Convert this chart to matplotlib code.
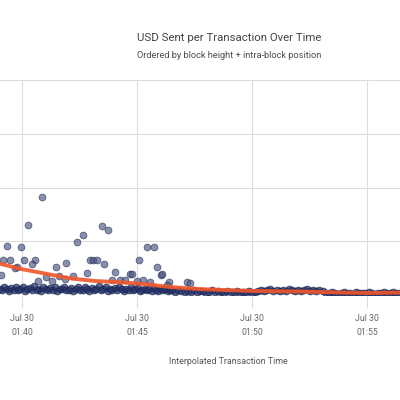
import matplotlib
matplotlib.use("Agg")
import matplotlib.pyplot as plt
import matplotlib.dates as mdates
import numpy as np
import datetime as dt

plt.rcParams['font.family'] = ['Roboto', 'DejaVu Sans']

# ---- data (seconds after 01:39:00, USD) ----
outlier_sec = [112, 76, 21, 57, 10, 29, 65, 94, 86, 47, 42, 5, 149, 175, 203, 219, 230,
               123, 157, 193, 102, 138, 172, 269, 284, 237, 245, 256, 274, 303, 342, 347,
               365, 386, 404, 412, 423, 295, 316, 329, 360, 376, 394, 425, 443, 490, 498, 438]
outlier_usd = [182, 130, 91, 89, 65, 65, 65, 65, 58, 52, 50, 37, 52, 60, 99, 112, 41,
               33, 35, 35, 26, 26, 30, 128, 121, 65, 65, 65, 58, 43, 39, 39,
               65, 89, 89, 52, 37, 28, 28, 28, 26, 28, 24, 39, 24, 24, 22, 19]

band_sec = [2, 8, 14, 20, 26, 32, 38, 44, 50, 56, 62, 68, 74, 80, 86, 92, 98, 104, 110, 116,
            122, 128, 134, 140, 146, 152, 158, 164, 170, 176, 182, 188, 194, 200, 206, 212,
            218, 224, 230, 236, 242, 248, 254, 260, 266, 272, 278, 284, 290, 296, 302, 308,
            314, 320, 326, 332, 338, 344, 350, 356, 362, 368, 374, 380, 386, 392, 398, 404,
            410, 416, 422, 428, 434, 440, 446,
            452, 460, 468, 476, 484, 492, 500, 508, 516, 524, 532, 540, 548, 556, 564, 572,
            580, 588, 596, 604, 612, 620, 628, 636, 644, 652, 660, 668, 676, 684, 692, 700,
            708, 716, 724, 732, 740, 748, 756, 764, 772, 780, 788, 796, 804, 812, 820, 828,
            836, 844, 852, 860, 868, 876, 884, 892, 900, 908, 916, 924, 932, 940, 948, 956,
            964, 972, 980, 988, 996, 1004, 1012, 1020, 1028, 1036, 1044]
band_usd = [12, 9, 14, 11, 8, 13, 10, 15, 9, 12, 14, 8, 11, 13, 10, 16, 9, 12, 7, 14,
            11, 9, 13, 10, 15, 8, 12, 11, 14, 9, 10, 13, 8, 12, 15, 10, 9, 14, 11, 7,
            13, 10, 12, 16, 9, 11, 14, 8, 12, 10, 13, 9, 15, 11, 8, 12, 10, 14, 9, 11,
            13, 8, 10, 12, 9, 11, 7, 13, 10, 8, 12, 9, 11, 7, 10,
            9, 6, 10, 7, 5, 8, 6, 9, 5, 7, 8, 4, 6, 9, 5, 7, 6, 4, 8, 5, 6, 7, 4, 6, 5, 7, 4, 6,
            8, 10, 7, 9, 11, 8, 10, 7, 9, 8, 11, 9, 7, 10, 8, 9, 11, 8, 10, 7, 9, 8,
            4, 3, 5, 4, 2, 4, 5, 3, 4, 2, 5, 3, 4, 3, 5, 4, 2, 4, 3, 5, 4, 3, 5, 4, 4]

trend_sec = [3, 60, 120, 185, 250, 310, 370, 446, 524, 600, 663, 785, 900, 965, 1046]
trend_usd = [58, 48, 40, 31, 26, 24, 21, 15, 11, 9, 7.5, 6.5, 4.5, 3.8, 4.5]

tick_times = ["01:40", "01:45", "01:50", "01:55"]
title = "USD Sent per Transaction Over Time"
subtitle = "Ordered by block height + intra-block position"
xlabel = "Interpolated Transaction Time"

base = dt.datetime(2017, 7, 30, 1, 39, 0)
def to_t(secs):
    return [base + dt.timedelta(seconds=s) for s in secs]

fig = plt.figure(figsize=(4, 4), dpi=100)
ax = fig.add_axes([0, 1 - 295 / 400, 1, 215 / 400])

band_t = to_t(band_sec)
out_t = to_t(outlier_sec)
ax.scatter(band_t, band_usd, s=24, facecolor='#27346b', edgecolor='#18224d',
           linewidths=0.6, alpha=0.75, zorder=3)
ax.scatter(out_t, outlier_usd, s=24, facecolor='#4a5580', edgecolor='#1f2955',
           linewidths=0.6, alpha=0.65, zorder=3)
ax.plot(to_t(trend_sec), trend_usd, color='#f2562a', lw=2.8, solid_capstyle='round',
        alpha=0.9, zorder=4)

ax.set_xlim(base + dt.timedelta(seconds=2.6), base + dt.timedelta(seconds=1046.1))
ax.set_ylim(0, 400)
ax.set_yticks([0, 100, 200, 300, 400])
ax.set_yticklabels([])
ax.tick_params(axis='y', length=0)

ticks = [dt.datetime(2017, 7, 30, int(t[:2]), int(t[3:]), 0) for t in tick_times]
ax.set_xticks(ticks)
ax.set_xticklabels(["Jul 30\n" + t for t in tick_times], fontsize=6.3, color='#666666',
                   linespacing=1.75)
ax.tick_params(axis='x', length=9, width=0.8, color='#dddddd', pad=4.5)
ax.grid(True, color='#dddddd', lw=0.8, zorder=0)
ax.set_axisbelow(True)
for sp in ax.spines.values():
    sp.set_visible(False)

fig.text(229 / 400, 1 - 38 / 400, title, ha='center', va='center', fontsize=8.2, color='#444444')
fig.text(229 / 400, 1 - 56 / 400, subtitle, ha='center', va='center', fontsize=6.7, color='#4d4d4d')
fig.text(228 / 400, 1 - 362 / 400, xlabel, ha='center', va='center', fontsize=6.4, color='#555555')

fig.savefig("out.png", dpi=100)
